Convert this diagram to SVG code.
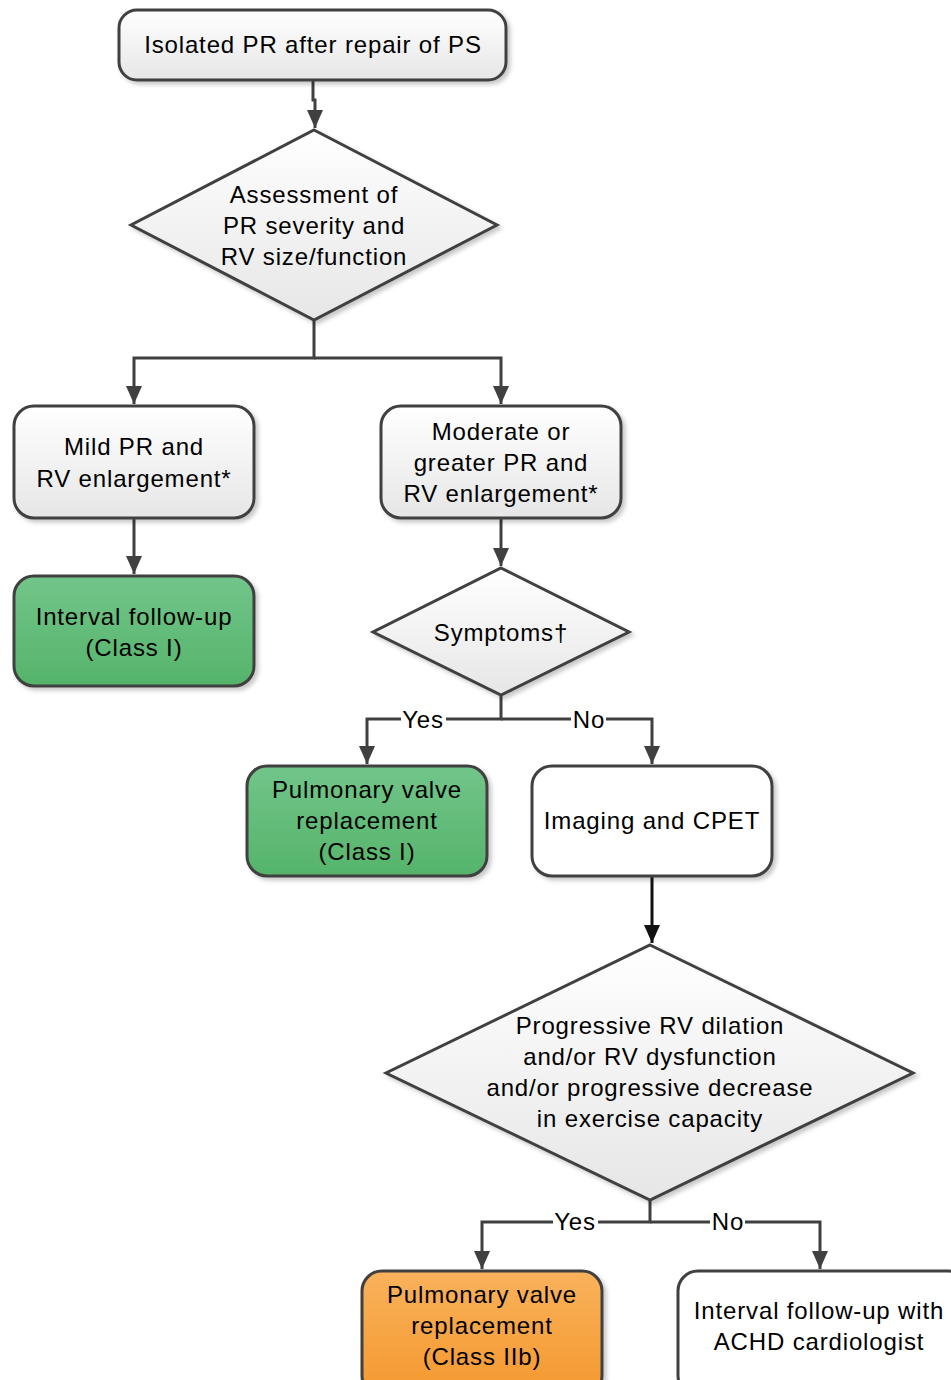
<svg xmlns="http://www.w3.org/2000/svg" width="951" height="1380" viewBox="0 0 951 1380">
<defs>
<linearGradient id="gGray" x1="0" y1="0" x2="0" y2="1"><stop offset="0" stop-color="#ffffff"/><stop offset="1" stop-color="#e6e6e6"/></linearGradient>
<linearGradient id="gGreen" x1="0" y1="0" x2="0" y2="1"><stop offset="0" stop-color="#72c58a"/><stop offset="1" stop-color="#55b46a"/></linearGradient>
<linearGradient id="gOrange" x1="0" y1="0" x2="0" y2="1"><stop offset="0" stop-color="#f9b25c"/><stop offset="1" stop-color="#f4982e"/></linearGradient>
<filter id="sh" x="-10%" y="-10%" width="130%" height="130%"><feDropShadow dx="3" dy="3" stdDeviation="2" flood-color="#000" flood-opacity="0.22"/></filter>
<marker id="ah" markerUnits="userSpaceOnUse" markerWidth="20" markerHeight="20" viewBox="0 0 20 20" refX="18" refY="10" orient="auto"><path d="M0,2 L18,10 L0,18 Z" fill="#404040"/></marker>
<marker id="ahk" markerUnits="userSpaceOnUse" markerWidth="20" markerHeight="20" viewBox="0 0 20 20" refX="18" refY="10" orient="auto"><path d="M0,2 L18,10 L0,18 Z" fill="#111"/></marker>
</defs>
<style>
.box{stroke:#404040;stroke-width:3;filter:url(#sh)}
.t{font-family:"Liberation Sans",Arial,sans-serif;font-size:24px;letter-spacing:0.85px;fill:#000;text-anchor:middle}
.c{fill:none;stroke:#404040;stroke-width:3}
.lb{fill:#fff}
</style>
<g id="connectors">
<path class="c" d="M313,80 V100 H315 V128" marker-end="url(#ah)"/>
<path class="c" d="M314,320 V358 H134 V404" marker-end="url(#ah)"/>
<path class="c" d="M314,358 H501 V404" marker-end="url(#ah)"/>
<path class="c" d="M134,518 V574" marker-end="url(#ah)"/>
<path class="c" d="M501,518 V566" marker-end="url(#ah)"/>
<path class="c" d="M501,695 V719 H367 V764" marker-end="url(#ah)"/>
<path class="c" d="M501,719 H652 V764" marker-end="url(#ah)"/>
<path class="c" d="M652,876 V943" style="stroke:#111" marker-end="url(#ahk)"/>
<path class="c" d="M650,1200 V1222 H482 V1269" marker-end="url(#ah)"/>
<path class="c" d="M650,1222 H820 V1269" marker-end="url(#ah)"/>
<rect class="lb" x="401" y="708" width="45" height="22"/>
<text class="t" x="423" y="728">Yes</text>
<rect class="lb" x="571" y="708" width="35" height="22"/>
<text class="t" x="589" y="728">No</text>
<rect class="lb" x="553" y="1211" width="45" height="22"/>
<text class="t" x="575" y="1230">Yes</text>
<rect class="lb" x="710" y="1211" width="35" height="22"/>
<text class="t" x="728" y="1230">No</text>
</g>
<g id="n-start">
<rect class="box" x="119" y="10" width="387" height="70" rx="18" fill="url(#gGray)"/>
<text class="t" x="313" y="53">Isolated PR after repair of PS</text>
</g>
<g id="n-assess">
<polygon class="box" points="314,130 497,225 314,320 131,225" fill="url(#gGray)"/>
<text class="t" x="314" y="203">Assessment of</text>
<text class="t" x="314" y="234">PR severity and</text>
<text class="t" x="314" y="265">RV size/function</text>
</g>
<g id="n-mild">
<rect class="box" x="14" y="406" width="240" height="112" rx="20" fill="url(#gGray)"/>
<text class="t" x="134" y="455">Mild PR and</text>
<text class="t" x="134" y="487">RV enlargement*</text>
</g>
<g id="n-interval">
<rect class="box" x="14" y="576" width="240" height="110" rx="20" fill="url(#gGreen)"/>
<text class="t" x="134" y="625">Interval follow-up</text>
<text class="t" x="134" y="656">(Class I)</text>
</g>
<g id="n-moderate">
<rect class="box" x="381" y="406" width="240" height="112" rx="20" fill="url(#gGray)"/>
<text class="t" x="501" y="440">Moderate or</text>
<text class="t" x="501" y="471">greater PR and</text>
<text class="t" x="501" y="502">RV enlargement*</text>
</g>
<g id="n-symptoms">
<polygon class="box" points="501,568 629,632 501,695 373,632" fill="url(#gGray)"/>
<text class="t" x="501" y="641">Symptoms†</text>
</g>
<g id="n-pvr1">
<rect class="box" x="247" y="766" width="240" height="110" rx="20" fill="url(#gGreen)"/>
<text class="t" x="367" y="798">Pulmonary valve</text>
<text class="t" x="367" y="829">replacement</text>
<text class="t" x="367" y="860">(Class I)</text>
</g>
<g id="n-imaging">
<rect class="box" x="532" y="766" width="240" height="110" rx="20" fill="#ffffff"/>
<text class="t" x="652" y="829">Imaging and CPET</text>
</g>
<g id="n-progressive">
<polygon class="box" points="650,945 913,1073 650,1200 386,1073" fill="url(#gGray)"/>
<text class="t" x="650" y="1034">Progressive RV dilation</text>
<text class="t" x="650" y="1065">and/or RV dysfunction</text>
<text class="t" x="650" y="1096">and/or progressive decrease</text>
<text class="t" x="650" y="1127">in exercise capacity</text>
</g>
<g id="n-pvr2">
<rect class="box" x="362" y="1271" width="240" height="125" rx="20" fill="url(#gOrange)"/>
<text class="t" x="482" y="1303">Pulmonary valve</text>
<text class="t" x="482" y="1334">replacement</text>
<text class="t" x="482" y="1365">(Class IIb)</text>
</g>
<g id="n-followup">
<rect class="box" x="678" y="1271" width="290" height="125" rx="20" fill="#ffffff"/>
<text class="t" x="819" y="1319">Interval follow-up with</text>
<text class="t" x="819" y="1350">ACHD cardiologist</text>
</g>
</svg>
